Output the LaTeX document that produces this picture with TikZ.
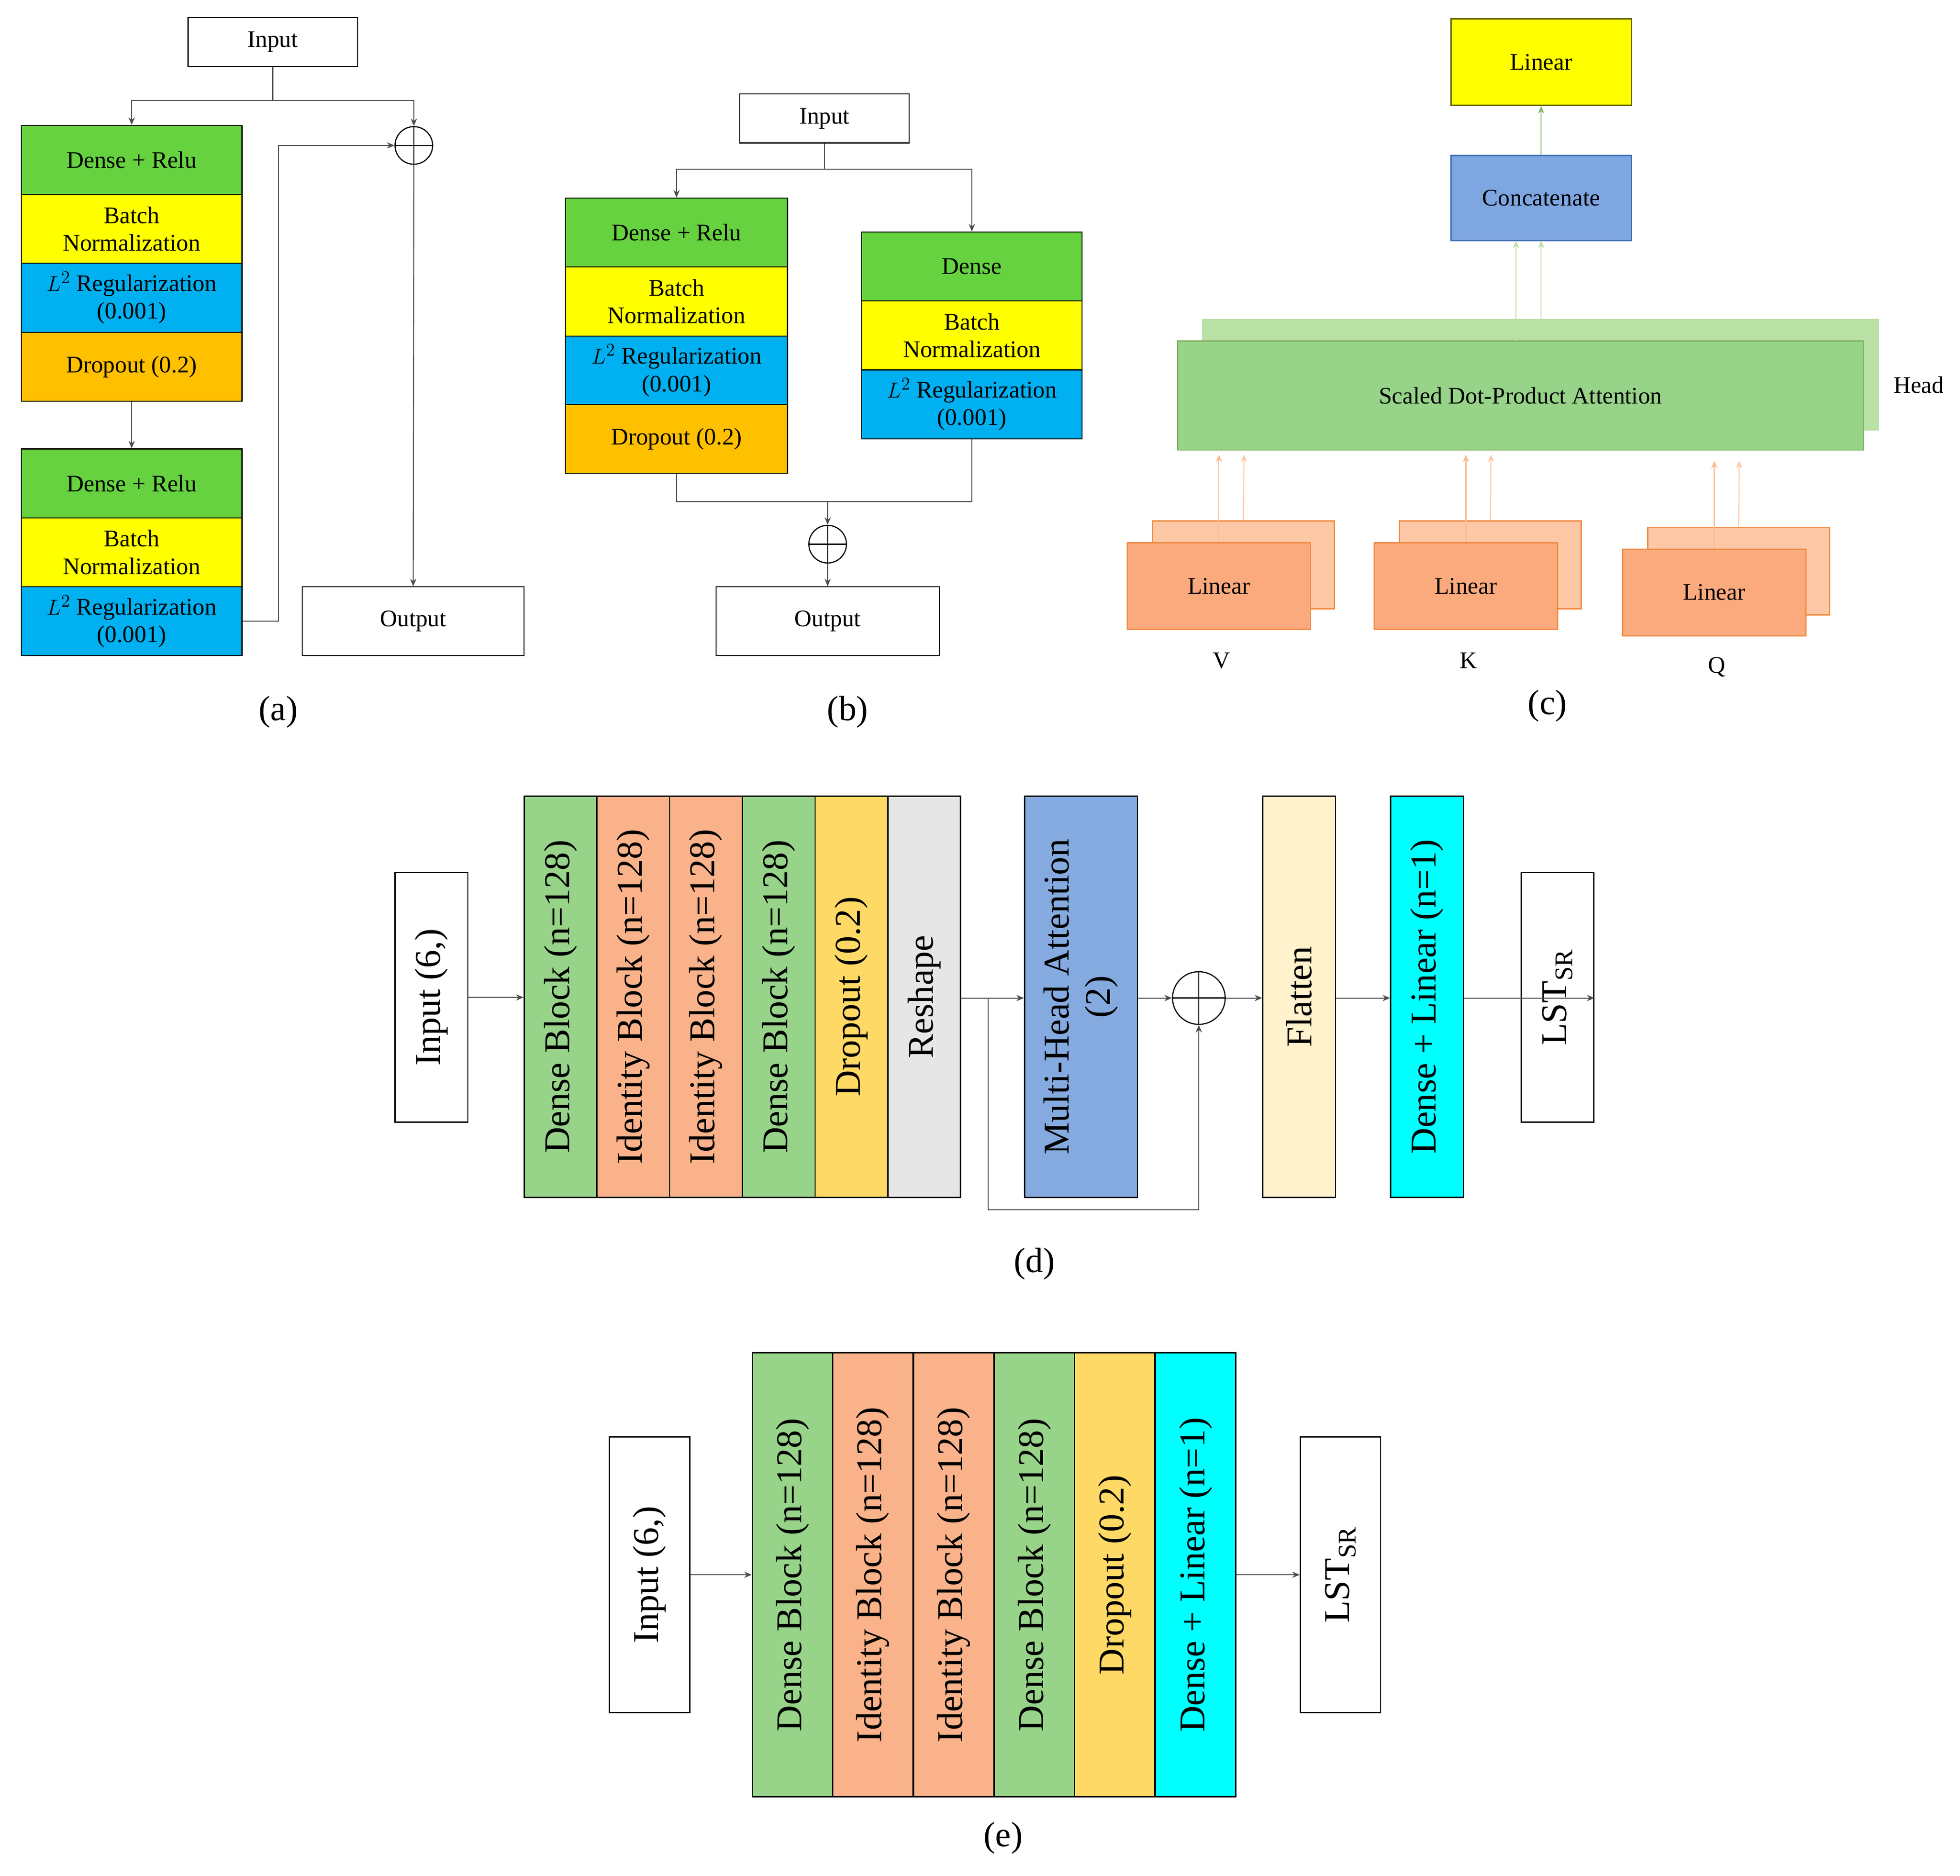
\documentclass[tikz,border=0pt]{standalone}
\usepackage{fontspec}
\setmainfont{Liberation Serif}
\usetikzlibrary{arrows.meta}
\definecolor{gA}{HTML}{66D23F}
\definecolor{yA}{HTML}{FFFF00}
\definecolor{bA}{HTML}{00B0F0}
\definecolor{oA}{HTML}{FFC000}
\definecolor{gD}{HTML}{97D389}
\definecolor{oD}{HTML}{F9B28A}
\definecolor{yD}{HTML}{FFD966}
\definecolor{grD}{HTML}{E6E6E6}
\definecolor{bD}{HTML}{85AADF}
\definecolor{lyD}{HTML}{FFF2CC}
\definecolor{cD}{HTML}{00FFFF}
\definecolor{attF}{HTML}{97D389}
\definecolor{attB}{HTML}{82B366}
\definecolor{attL}{HTML}{B9E0A5}
\definecolor{linF}{HTML}{FBAA7E}
\definecolor{linB}{HTML}{F08A40}
\definecolor{linL}{HTML}{FDC8A6}
\definecolor{concF}{HTML}{7EA6E0}
\definecolor{concB}{HTML}{3E6FB8}
\tikzset{
 blk/.style={draw=black,line width=0.8pt,inner sep=0pt,align=center,font=\fontsize{19}{22}\selectfont},
 wbox/.style={blk,fill=white},
 big/.style={draw=black,line width=1pt,inner sep=0pt,align=center,rotate=90,font=\fontsize{29}{33}\selectfont},
 ln/.style={draw=black!70,line width=0.8pt},
 arr/.style={ln,-{Stealth[length=6pt,width=5pt]}},
 oplus/.style={circle,draw=black,line width=0.9pt,minimum size=#1,inner sep=0pt,
   path picture={\draw[line width=0.9pt] (path picture bounding box.north) -- (path picture bounding box.south)
     (path picture bounding box.west) -- (path picture bounding box.east);}},
 lab/.style={font=\fontsize{28}{32}\selectfont},
}
\begin{document}
\begin{tikzpicture}[x=1pt,y=-1pt]
\useasboundingbox[fill=white] (0,0) rectangle (1563,1496);
% ---------- (a)
\node[wbox,minimum width=135pt,minimum height=39pt] (aIn) at (217.5,33.5) {Input};
\node[blk,fill=gA,minimum width=176pt,minimum height=55pt] (a1) at (105,127.5) {Dense + Relu};
\node[blk,fill=yA,minimum width=176pt,minimum height=55pt] (a2) at (105,182.5) {Batch\\Normalization};
\node[blk,fill=bA,minimum width=176pt,minimum height=55pt] (a3) at (105,237.5) {$L^2$ Regularization\\(0.001)};
\node[blk,fill=oA,minimum width=176pt,minimum height=55pt] (a4) at (105,292.5) {Dropout (0.2)};
\node[blk,fill=gA,minimum width=176pt,minimum height=55pt] (a5) at (105,385.5) {Dense + Relu};
\node[blk,fill=yA,minimum width=176pt,minimum height=55pt] (a6) at (105,440.5) {Batch\\Normalization};
\node[blk,fill=bA,minimum width=176pt,minimum height=55pt] (a7) at (105,495.5) {$L^2$ Regularization\\(0.001)};
\node[oplus=30pt] (aP) at (330,116) {};
\node[wbox,minimum width=177pt,minimum height=55pt] (aOut) at (329.5,495.5) {Output};
\coordinate (aJ) at (217.5,80);
\draw[ln] (aIn.south) -- (aJ);
\draw[arr] (aJ) -| (a1.north);
\draw[arr] (aJ) -| (aP.north);
\draw[arr] (a4.south) -- (a5.north);
\draw[arr] (a7.east) -| (222,116) -- (aP.west);
\draw[arr] (aP.south) -- (aOut.north);
\node[lab] at (222,568) {(a)};
% ---------- (b)
\node[wbox,minimum width=135pt,minimum height=39pt] (bIn) at (657.5,94.5) {Input};
\node[blk,fill=gA,minimum width=177pt,minimum height=55pt] (b1) at (539.5,185.5) {Dense + Relu};
\node[blk,fill=yA,minimum width=177pt,minimum height=55pt] (b2) at (539.5,240.5) {Batch\\Normalization};
\node[blk,fill=bA,minimum width=177pt,minimum height=55pt] (b3) at (539.5,295.5) {$L^2$ Regularization\\(0.001)};
\node[blk,fill=oA,minimum width=177pt,minimum height=55pt] (b4) at (539.5,350) {Dropout (0.2)};
\node[blk,fill=gA,minimum width=176pt,minimum height=55pt] (b5) at (775,212.5) {Dense};
\node[blk,fill=yA,minimum width=176pt,minimum height=55pt] (b6) at (775,267.5) {Batch\\Normalization};
\node[blk,fill=bA,minimum width=176pt,minimum height=55pt] (b7) at (775,322.5) {$L^2$ Regularization\\(0.001)};
\node[oplus=30pt] (bP) at (660,434) {};
\node[wbox,minimum width=178pt,minimum height=55pt] (bOut) at (660,495.5) {Output};
\coordinate (bJ) at (657.5,135);
\draw[ln] (bIn.south) -- (bJ);
\draw[arr] (bJ) -| (b1.north);
\draw[arr] (bJ) -| (b5.north);
\draw[ln] (b4.south) |- (660,400);
\draw[ln] (b7.south) |- (660,400);
\draw[arr] (660,400) -- (bP.north);
\draw[arr] (bP.south) -- (bOut.north);
\node[lab] at (676,568) {(b)};
% ---------- (c)
\node[draw=black!60!yA,line width=1pt,fill=yA,minimum width=144pt,minimum height=69pt,font=\fontsize{19}{22}\selectfont] (cLin) at (1229,49.5) {Linear};
\node[draw=concB,line width=1pt,fill=concF,minimum width=144pt,minimum height=68pt,font=\fontsize{19}{22}\selectfont] (cCon) at (1229,158) {Concatenate};
\draw[-{Stealth[length=6pt,width=5pt]},draw=attB,line width=0.8pt] (cCon.north) -- (cLin.south);
\node[draw=attL,line width=1pt,fill=attL,minimum width=539pt,minimum height=88pt] (cAttB) at (1228.5,299) {};
\node[draw=attB,line width=1pt,fill=attF,minimum width=547pt,minimum height=87pt,font=\fontsize{19}{22}\selectfont] (cAtt) at (1212.5,315.5) {Scaled Dot-Product Attention};
\node[font=\fontsize{19}{22}\selectfont] at (1530,307) {Head};
\draw[-{Stealth[length=6pt,width=5pt]},draw=attL,line width=0.8pt] (1209,272) -- (1209,192);
\draw[-{Stealth[length=6pt,width=5pt]},draw=attL,line width=0.8pt] (1229,255) -- (1229,192);
\foreach \n/\x/\y/\t in {V/972/467.5/V,K/1169/467.5/K,Q/1367/472.5/Q}{
 \node[draw=linB,line width=1pt,fill=linL,minimum width=145pt,minimum height=70pt] (c\n b) at (\x+19.5,\y-17) {};
 \node[draw=linB,line width=1pt,fill=linF,minimum width=146pt,minimum height=69pt,font=\fontsize{19}{22}\selectfont] (c\n) at (\x,\y) {Linear};
 \node[font=\fontsize{19}{22}\selectfont] at (\x+2,\y+59.5) {\t};
 \draw[-{Stealth[length=6pt,width=5pt]},draw=linL!80!linB,line width=0.8pt] (c\n.north) -- (\x,\y-105);
 \draw[-{Stealth[length=6pt,width=5pt]},draw=linL,line width=0.8pt] (c\n b.north) -- (\x+20,\y-105);
}
\node[lab] at (1234,563) {(c)};
% ---------- (d)
\node[big,fill=white,minimum width=199pt,minimum height=58pt] (dIn) at (344,795.5) {Input (6,)};
\node[big,fill=gD,minimum width=320pt,minimum height=58pt] (d1) at (447,795) {Dense Block (n=128)};
\node[big,fill=oD,minimum width=320pt,minimum height=58pt] (d2) at (505,795) {Identity Block (n=128)};
\node[big,fill=oD,minimum width=320pt,minimum height=58pt] (d3) at (563,795) {Identity Block (n=128)};
\node[big,fill=gD,minimum width=320pt,minimum height=58pt] (d4) at (621,795) {Dense Block (n=128)};
\node[big,fill=yD,minimum width=320pt,minimum height=58pt] (d5) at (679,795) {Dropout (0.2)};
\node[big,fill=grD,minimum width=320pt,minimum height=58pt] (d6) at (737,795) {Reshape};
\node[big,fill=bD,minimum width=320pt,minimum height=90pt] (d7) at (862,795) {Multi-Head Attention\\(2)};
\node[oplus=42pt] (dP) at (956,796) {};
\node[big,fill=lyD,minimum width=320pt,minimum height=58pt] (d8) at (1036,795) {Flatten};
\node[big,fill=cD,minimum width=320pt,minimum height=58pt] (d9) at (1138,795) {Dense + Linear (n=1)};
\node[big,fill=white,minimum width=199pt,minimum height=58pt] (dOut) at (1242,795.5) {LST\textsubscript{SR}};
\draw[arr] (dIn.south) -- (d1.north |- dIn.south);
\draw[arr] (d6.south |- 0,796) -- (d7.north |- 0,796);
\draw[arr] (d7.south |- 0,796) -- (dP.west);
\draw[arr] (dP.east) -- (d8.north |- 0,796);
\draw[arr] (d8.south |- 0,796) -- (d9.north |- 0,796);
\draw[arr] (d9.south |- 0,796) -- (dOut.south |- 0,796) ;
\draw[arr] (788,796) -- (788,965) -| (dP.south);
\node[lab] at (825,1008) {(d)};
% ---------- (e)
\node[big,fill=white,minimum width=220pt,minimum height=64pt] (eIn) at (518,1256) {Input (6,)};
\node[big,fill=gD,minimum width=354pt,minimum height=64pt] (e1) at (632,1256) {Dense Block (n=128)};
\node[big,fill=oD,minimum width=354pt,minimum height=64pt] (e2) at (696,1256) {Identity Block (n=128)};
\node[big,fill=oD,minimum width=354pt,minimum height=64pt] (e3) at (760.5,1256) {Identity Block (n=128)};
\node[big,fill=gD,minimum width=354pt,minimum height=64pt] (e4) at (825,1256) {Dense Block (n=128)};
\node[big,fill=yD,minimum width=354pt,minimum height=64pt] (e5) at (889,1256) {Dropout (0.2)};
\node[big,fill=cD,minimum width=354pt,minimum height=64pt] (e6) at (953.5,1256) {Dense + Linear (n=1)};
\node[big,fill=white,minimum width=220pt,minimum height=64pt] (eOut) at (1069,1256) {LST\textsubscript{SR}};
\draw[arr] (eIn.south) -- (e1.north |- eIn.south);
\draw[arr] (e6.south |- 0,1256) -- (eOut.north |- 0,1256);
\node[lab] at (800,1466) {(e)};
\end{tikzpicture}
\end{document}
